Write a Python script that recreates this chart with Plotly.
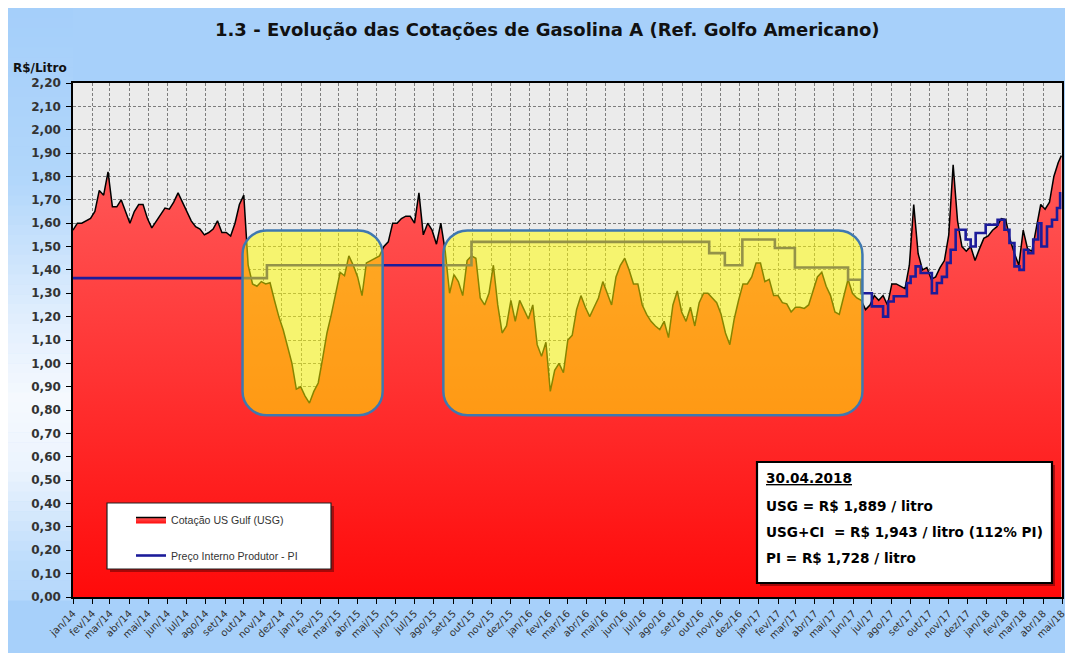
import numpy as np
import pandas as pd
import plotly.graph_objects as go

# ---------------- data ----------------
USG_START = "2014-01-01"          # weekly samples of the US Gulf quotation (R$/litro)
USG_WEEKLY = [
    1.57, 1.60, 1.60, 1.61, 1.62, 1.65, 1.74, 1.72, 1.82, 1.67,
    1.67, 1.70, 1.65, 1.60, 1.65, 1.68, 1.68, 1.62, 1.58, 1.61,
    1.64, 1.665, 1.66, 1.69, 1.73, 1.69, 1.65, 1.61, 1.585, 1.575,
    1.55, 1.56, 1.575, 1.61, 1.56, 1.56, 1.545, 1.60, 1.68, 1.72,
    1.42, 1.34, 1.33, 1.35, 1.34, 1.345, 1.27, 1.20, 1.144, 1.07,
    1.00, 0.89, 0.90, 0.86, 0.83, 0.88, 0.916, 1.02, 1.13, 1.21,
    1.30, 1.39, 1.375, 1.46, 1.42, 1.37, 1.29, 1.43, 1.44, 1.45,
    1.46, 1.50, 1.52, 1.60, 1.60, 1.62, 1.63, 1.63, 1.60, 1.73,
    1.55, 1.60, 1.57, 1.51, 1.60, 1.48, 1.30, 1.38, 1.35, 1.29,
    1.44, 1.46, 1.45, 1.28, 1.25, 1.30, 1.42, 1.25, 1.13, 1.16,
    1.27, 1.18, 1.27, 1.23, 1.19, 1.25, 1.08, 1.03, 1.09, 0.88,
    0.97, 1.00, 0.96, 1.10, 1.12, 1.23, 1.29, 1.24, 1.20, 1.24,
    1.28, 1.35, 1.30, 1.25, 1.37, 1.42, 1.45, 1.40, 1.34, 1.34,
    1.25, 1.21, 1.18, 1.16, 1.145, 1.18, 1.11, 1.25, 1.31, 1.22,
    1.18, 1.24, 1.16, 1.26, 1.30, 1.30, 1.28, 1.26, 1.21, 1.13,
    1.08, 1.19, 1.27, 1.34, 1.34, 1.37, 1.43, 1.43, 1.35, 1.36,
    1.29, 1.29, 1.26, 1.255, 1.22, 1.24, 1.24, 1.235, 1.25, 1.31,
    1.37, 1.39, 1.33, 1.29, 1.22, 1.21, 1.29, 1.36, 1.30, 1.28,
    1.27, 1.23, 1.25, 1.29, 1.27, 1.29, 1.25, 1.34, 1.34, 1.33,
    1.32, 1.42, 1.68, 1.47, 1.40, 1.41, 1.36, 1.37, 1.41, 1.44,
    1.55, 1.85, 1.61, 1.50, 1.48, 1.50, 1.44, 1.49, 1.535, 1.545,
    1.57, 1.585, 1.62, 1.615, 1.53, 1.47, 1.42, 1.57, 1.49, 1.48,
    1.58, 1.68, 1.66, 1.69, 1.80, 1.86,
]
USG_LAST_DATE = "2018-04-30"
USG_LAST = 1.889
USG_CI_LAST = 1.943
PI_LAST = 1.728
PI_PCT = 112

PI_DATES = [
    "2014-01-01", "2014-11-07", "2015-09-30", "2016-10-14", "2016-11-08",
    "2016-12-06", "2017-01-27", "2017-02-28", "2017-05-24", "2017-06-14",
    "2017-07-01", "2017-07-19", "2017-07-27", "2017-08-05", "2017-08-26",
    "2017-09-01", "2017-09-09", "2017-09-17", "2017-10-05", "2017-10-13",
    "2017-10-21", "2017-10-29", "2017-11-04", "2017-11-12", "2017-11-28",
    "2017-12-06", "2017-12-14", "2017-12-30", "2018-01-18", "2018-01-29",
    "2018-02-06", "2018-02-14", "2018-02-22", "2018-03-01", "2018-03-08",
    "2018-03-16", "2018-03-24", "2018-03-29", "2018-04-07", "2018-04-15",
    "2018-04-23", "2018-04-28", "2018-04-30",
]
PI_VALUES = [
    1.365, 1.42, 1.52, 1.472, 1.42,
    1.53, 1.494, 1.41, 1.358, 1.30,
    1.244, 1.20, 1.265, 1.287, 1.344,
    1.372, 1.415, 1.387, 1.30, 1.344,
    1.37, 1.43, 1.486, 1.572, 1.53,
    1.50, 1.558, 1.593, 1.615, 1.572,
    1.515, 1.415, 1.40, 1.486, 1.472,
    1.53, 1.60, 1.50, 1.586, 1.615,
    1.665, 1.728, 1.728,
]

MONTHS_PT = ["jan", "fev", "mar", "abr", "mai", "jun",
             "jul", "ago", "set", "out", "nov", "dez"]
X_START, X_END = "2014-01-01", "2018-05-01"

# highlighted periods (date range, value range)
HIGHLIGHTS = [
    ("2014-09-29", "2015-05-11", 0.778, 1.569),
    ("2015-08-16", "2017-06-16", 0.778, 1.569),
]

TITLE = "1.3 - Evolução das Cotações de Gasolina A (Ref. Golfo Americano)"
NAME_USG = "Cotação US Gulf (USG)"
NAME_PI = "Preço Interno Produtor - PI"

# ---------------- geometry (screen px; page body adds an 8px offset) ----------------
OFF = 8
W, H = 1073 - OFF, 653 - OFF
SX0, SX1, SY0, SY1 = 73, 1062, 83, 597      # plot area on screen
ML, MR, MT, MB = SX0 - OFF, W - (SX1 - OFF), SY0 - OFF, H - (SY1 - OFF)
PW, PH = SX1 - SX0, SY1 - SY0
FONT = "DejaVu Sans, Liberation Sans, Arial"


def px_to_paper_x(px):
    return (px - SX0) / PW


def px_to_paper_y(py):
    return (SY1 - py) / PH


usg_dates = list(pd.date_range(USG_START, periods=len(USG_WEEKLY), freq="7D")) + [pd.Timestamp(USG_LAST_DATE)]
usg_vals = USG_WEEKLY + [USG_LAST]

tick_dates = pd.date_range(X_START, X_END, freq="MS")
tick_text = [f"{MONTHS_PT[d.month - 1]}/{d.year % 100:02d}" for d in tick_dates]

fig = go.Figure()
fig.add_trace(go.Scatter(
    x=usg_dates, y=usg_vals, name=NAME_USG, mode="lines",
    line=dict(color="black", width=1.5),
    fill="tozeroy",
    fillgradient=dict(type="vertical", start=0, stop=1.9,
                      colorscale=[[0, "#ff0a0a"], [0.5, "#ff3333"], [1, "#ff5a5a"]]),
    legendgroup="a",
))
fig.add_trace(go.Scatter(
    x=PI_DATES, y=PI_VALUES, name=NAME_PI, mode="lines",
    line=dict(color="#1c1c9a", width=2.6, shape="hv"),
    legendgroup="b",
))

shapes = []
# left-margin background gradient
stops_y = [OFF, 180, 320, 400, 470, 560, 653]
stops_c = [(165, 207, 250), (178, 215, 251), (226, 239, 254), (246, 250, 255),
           (236, 244, 254), (190, 221, 252), (168, 209, 250)]
n = 60
edges = np.linspace(OFF, 600, n + 1)
for i in range(n):
    ym = 0.5 * (edges[i] + edges[i + 1])
    c = [int(np.interp(ym, stops_y, [s[k] for s in stops_c])) for k in range(3)]
    shapes.append(dict(type="rect", xref="paper", yref="paper",
                       x0=px_to_paper_x(OFF), x1=0, y0=px_to_paper_y(edges[i + 1] + 0.5),
                       y1=px_to_paper_y(edges[i]), fillcolor=f"rgb({c[0]},{c[1]},{c[2]})",
                       line_width=0, layer="below"))

# highlight rounded boxes
t0 = pd.Timestamp(X_START).value
t1 = pd.Timestamp(X_END).value
rxp, ryp = 24 / PW, 24 / PH
k = 0.5523


def rounded(x0, x1, y0, y1):
    rx, ry = rxp, ryp
    return (f"M {x0+rx},{y0} L {x1-rx},{y0} "
            f"C {x1-rx+k*rx},{y0} {x1},{y0+ry-k*ry} {x1},{y0+ry} "
            f"L {x1},{y1-ry} "
            f"C {x1},{y1-ry+k*ry} {x1-rx+k*rx},{y1} {x1-rx},{y1} "
            f"L {x0+rx},{y1} "
            f"C {x0+rx-k*rx},{y1} {x0},{y1-ry+k*ry} {x0},{y1-ry} "
            f"L {x0},{y0+ry} "
            f"C {x0},{y0+ry-k*ry} {x0+rx-k*rx},{y0} {x0+rx},{y0} Z")


for d0, d1, v0, v1 in HIGHLIGHTS:
    x0 = (pd.Timestamp(d0).value - t0) / (t1 - t0)
    x1 = (pd.Timestamp(d1).value - t0) / (t1 - t0)
    y0, y1 = v0 / 2.2, v1 / 2.2
    shapes.append(dict(type="path", xref="paper", yref="paper", path=rounded(x0, x1, y0, y1),
                       fillcolor="rgba(255,252,0,0.53)", line=dict(color="#3f78b0", width=2.5),
                       layer="above"))

# legend box (shadow + white box)
lx0, lx1, ly0, ly1 = 107, 331, 503, 569
shapes.append(dict(type="rect", xref="paper", yref="paper",
                   x0=px_to_paper_x(lx0 + 3), x1=px_to_paper_x(lx1 + 3),
                   y0=px_to_paper_y(ly1 + 3), y1=px_to_paper_y(ly0 + 3),
                   fillcolor="rgba(60,0,0,0.45)", line_width=0, layer="above"))
shapes.append(dict(type="rect", xref="paper", yref="paper",
                   x0=px_to_paper_x(lx0), x1=px_to_paper_x(lx1),
                   y0=px_to_paper_y(ly1), y1=px_to_paper_y(ly0),
                   fillcolor="white", line=dict(color="#222", width=1.2), layer="above"))

# info box
bx0, bx1, by0, by1 = 757, 1052, 462, 583
shapes.append(dict(type="rect", xref="paper", yref="paper",
                   x0=px_to_paper_x(bx0 + 3), x1=px_to_paper_x(bx1 + 3),
                   y0=px_to_paper_y(by1 + 3), y1=px_to_paper_y(by0 + 3),
                   fillcolor="rgba(60,0,0,0.45)", line_width=0, layer="above"))
shapes.append(dict(type="rect", xref="paper", yref="paper",
                   x0=px_to_paper_x(bx0), x1=px_to_paper_x(bx1),
                   y0=px_to_paper_y(by1), y1=px_to_paper_y(by0),
                   fillcolor="white", line=dict(color="black", width=2.2), layer="above"))

fmt = lambda v: f"{v:.3f}".replace(".", ",")
info_lines = [
    f"<u>{pd.Timestamp(USG_LAST_DATE):%d.%m.%Y}</u>",
    f"USG = R$ {fmt(USG_LAST)} / litro",
    f"USG+CI  = R$ {fmt(USG_CI_LAST)} / litro ({PI_PCT}% PI)",
    f"PI = R$ {fmt(PI_LAST)} / litro",
]
info_y = [478, 506, 532, 558]
annotations = []
for txt, yy in zip(info_lines, info_y):
    annotations.append(dict(xref="paper", yref="paper", x=px_to_paper_x(764), y=px_to_paper_y(yy),
                            text=txt.replace("  ", "&nbsp; "), showarrow=False, xanchor="left", yanchor="middle",
                            font=dict(family=FONT, size=13.6, color="black", weight="bold")))

annotations.append(dict(xref="paper", yref="paper", x=px_to_paper_x(11), y=px_to_paper_y(68),
                        text="R$/Litro", showarrow=False, xanchor="left", yanchor="middle",
                        font=dict(family=FONT, size=12, color="#111", weight="bold")))
annotations.append(dict(xref="paper", yref="paper", x=px_to_paper_x(547), y=px_to_paper_y(30),
                        text=TITLE, showarrow=False, xanchor="center", yanchor="middle",
                        font=dict(family=FONT, size=18, color="#111", weight="bold")))

grid_color = "#7d7d7d"
fig.update_layout(
    width=W, height=H,
    margin=dict(l=ML, r=MR, t=MT, b=MB, pad=0, autoexpand=False),
    paper_bgcolor="#a7d0fa",
    plot_bgcolor="#ebebeb",
    separators=",.",
    showlegend=True,
    legend=dict(x=px_to_paper_x(131), y=px_to_paper_y(505), xanchor="left", yanchor="top",
                bgcolor="rgba(0,0,0,0)", borderwidth=0, tracegroupgap=17,
                font=dict(family="Liberation Sans, Arial", size=10.6, color="#333")),
    shapes=shapes,
    annotations=annotations,
    xaxis=dict(type="date", range=[X_START, X_END], tickvals=list(tick_dates), ticktext=tick_text,
               tickangle=-45, ticks="outside", ticklen=5, tickcolor="black", automargin=False,
               tickfont=dict(family=FONT, size=10, color="#333"),
               showgrid=True, gridcolor=grid_color, griddash="3px,2px", gridwidth=1,
               showline=True, linecolor="black", linewidth=1.5, mirror=True, zeroline=False),
    yaxis=dict(range=[0, 2.2], dtick=0.1, tick0=0, tickformat=".2f", automargin=False,
               ticks="outside", ticklen=5, tickcolor="black", ticklabelstandoff=3,
               tickfont=dict(family=FONT, size=12, color="#333", weight="bold"),
               showgrid=True, gridcolor=grid_color, griddash="3px,2px", gridwidth=1,
               showline=True, linecolor="black", linewidth=1.5, mirror=True, zeroline=False),
)

fig.write_html("out.html")
